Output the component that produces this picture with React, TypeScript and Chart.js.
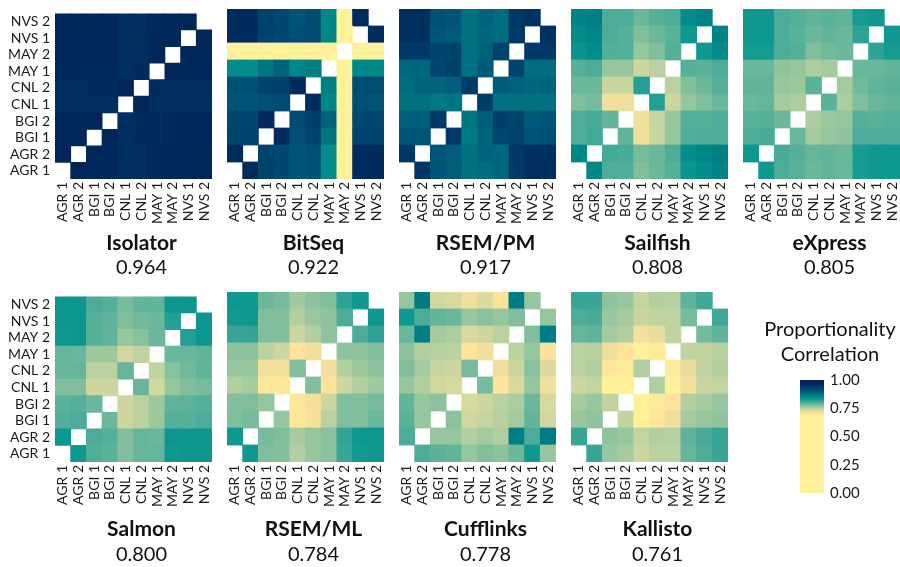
import React, { useEffect, useRef } from 'react';
import { Chart, registerables } from 'chart.js';
Chart.register(...registerables);

const FONT = 'Lato, "Open Sans", sans-serif';
const TEXT = '#1a1a1a';

const samples = ['AGR 1', 'AGR 2', 'BGI 1', 'BGI 2', 'CNL 1', 'CNL 2', 'MAY 1', 'MAY 2', 'NVS 1', 'NVS 2'];

// Lower triangles: row i holds the correlation of sample i with samples 0..i-1
const isolatorTri = [
  [],
  [0.975],
  [0.97, 0.97],
  [0.97, 0.97, 0.975],
  [0.955, 0.955, 0.955, 0.958],
  [0.958, 0.958, 0.96, 0.96, 0.975],
  [0.968, 0.968, 0.965, 0.965, 0.955, 0.96],
  [0.97, 0.97, 0.968, 0.968, 0.955, 0.958, 0.975],
  [0.97, 0.97, 0.97, 0.97, 0.955, 0.958, 0.97, 0.97],
  [0.972, 0.972, 0.97, 0.97, 0.955, 0.958, 0.97, 0.972, 0.975],
];
const bitseqTri = [
  [],
  [0.965],
  [0.925, 0.925],
  [0.92, 0.92, 0.965],
  [0.905, 0.905, 0.91, 0.915],
  [0.91, 0.91, 0.925, 0.93, 0.96],
  [0.845, 0.845, 0.87, 0.89, 0.85, 0.86],
  [0.55, 0.55, 0.55, 0.55, 0.55, 0.55, 0.55],
  [0.965, 0.965, 0.925, 0.92, 0.91, 0.915, 0.85, 0.55],
  [0.965, 0.965, 0.925, 0.92, 0.905, 0.915, 0.85, 0.55, 0.965],
];
const rsemPmTri = [
  [],
  [0.945],
  [0.905, 0.905],
  [0.895, 0.895, 0.94],
  [0.875, 0.875, 0.865, 0.87],
  [0.88, 0.89, 0.89, 0.895, 0.935],
  [0.885, 0.885, 0.92, 0.93, 0.875, 0.9],
  [0.94, 0.94, 0.925, 0.925, 0.875, 0.89, 0.925],
  [0.955, 0.955, 0.905, 0.9, 0.875, 0.885, 0.88, 0.94],
  [0.955, 0.955, 0.91, 0.905, 0.875, 0.89, 0.88, 0.94, 0.95],
];
const sailfishTri = [
  [],
  [0.85],
  [0.798, 0.805],
  [0.798, 0.802, 0.788],
  [0.775, 0.78, 0.717, 0.72],
  [0.785, 0.785, 0.74, 0.74, 0.82],
  [0.795, 0.8, 0.765, 0.765, 0.738, 0.748],
  [0.835, 0.845, 0.797, 0.795, 0.765, 0.775, 0.795],
  [0.845, 0.852, 0.8, 0.795, 0.775, 0.785, 0.792, 0.83],
  [0.855, 0.86, 0.8, 0.8, 0.785, 0.795, 0.8, 0.845, 0.855],
];
const expressTri = [
  [],
  [0.83],
  [0.8, 0.802],
  [0.793, 0.795, 0.785],
  [0.785, 0.787, 0.758, 0.755],
  [0.789, 0.789, 0.765, 0.762, 0.792],
  [0.785, 0.785, 0.768, 0.765, 0.755, 0.758],
  [0.826, 0.826, 0.8, 0.795, 0.775, 0.782, 0.785],
  [0.83, 0.83, 0.8, 0.792, 0.785, 0.789, 0.785, 0.815],
  [0.83, 0.83, 0.8, 0.795, 0.789, 0.793, 0.789, 0.826, 0.83],
];
const salmonTri = [
  [],
  [0.83],
  [0.797, 0.8],
  [0.792, 0.795, 0.785],
  [0.775, 0.775, 0.738, 0.738],
  [0.787, 0.787, 0.748, 0.748, 0.787],
  [0.787, 0.785, 0.762, 0.762, 0.736, 0.745],
  [0.83, 0.832, 0.795, 0.789, 0.765, 0.772, 0.785],
  [0.832, 0.832, 0.795, 0.79, 0.775, 0.782, 0.785, 0.82],
  [0.832, 0.832, 0.8, 0.795, 0.778, 0.789, 0.789, 0.832, 0.832],
];
const rsemMlTri = [
  [],
  [0.83],
  [0.775, 0.78],
  [0.774, 0.775, 0.765],
  [0.752, 0.757, 0.7, 0.7],
  [0.765, 0.765, 0.715, 0.716, 0.774],
  [0.77, 0.77, 0.748, 0.738, 0.71, 0.718],
  [0.81, 0.812, 0.775, 0.774, 0.738, 0.752, 0.768],
  [0.828, 0.83, 0.775, 0.774, 0.752, 0.763, 0.768, 0.8],
  [0.83, 0.83, 0.785, 0.78, 0.76, 0.77, 0.774, 0.815, 0.83],
];
const cufflinksTri = [
  [],
  [0.8],
  [0.792, 0.765],
  [0.788, 0.765, 0.77],
  [0.765, 0.752, 0.737, 0.732],
  [0.775, 0.758, 0.742, 0.738, 0.78],
  [0.77, 0.752, 0.75, 0.748, 0.71, 0.718],
  [0.785, 0.86, 0.758, 0.755, 0.732, 0.738, 0.748],
  [0.83, 0.8, 0.788, 0.785, 0.765, 0.772, 0.765, 0.775],
  [0.765, 0.866, 0.736, 0.732, 0.718, 0.73, 0.712, 0.862, 0.765],
];
const kallistoTri = [
  [],
  [0.81],
  [0.764, 0.768],
  [0.757, 0.764, 0.745],
  [0.738, 0.743, 0.68, 0.68],
  [0.748, 0.752, 0.7, 0.695, 0.753],
  [0.748, 0.75, 0.72, 0.71, 0.68, 0.69],
  [0.787, 0.79, 0.758, 0.752, 0.716, 0.722, 0.745],
  [0.8, 0.802, 0.764, 0.757, 0.74, 0.745, 0.745, 0.78],
  [0.81, 0.81, 0.768, 0.764, 0.743, 0.752, 0.75, 0.79, 0.806],
];

const methods = ['Isolator', 'BitSeq', 'RSEM/PM', 'Sailfish', 'eXpress', 'Salmon', 'RSEM/ML', 'Cufflinks', 'Kallisto'];
const scores = ['0.964', '0.922', '0.917', '0.808', '0.805', '0.800', '0.784', '0.778', '0.761'];
const triangles = [isolatorTri, bitseqTri, rsemPmTri, sailfishTri, expressTri, salmonTri, rsemMlTri, cufflinksTri, kallistoTri];
const legendTicks = [0, 0.25, 0.5, 0.75, 1];
const legendTitle = ['Proportionality', 'Correlation'];

const colorStops: [number, string][] = [
  [0, '#fff29c'],
  [0.68, '#fff09a'],
  [0.71, '#fde39b'],
  [0.73, '#dcda9f'],
  [0.75, '#b6d0a0'],
  [0.77, '#8bc29d'],
  [0.79, '#5fb39a'],
  [0.81, '#38a597'],
  [0.83, '#0e9890'],
  [0.85, '#008888'],
  [0.87, '#007682'],
  [0.89, '#00637c'],
  [0.91, '#005075'],
  [0.93, '#00406c'],
  [0.95, '#003262'],
  [0.97, '#00285a'],
  [1, '#0a1d4c'],
];

function hexRgb(h: string) {
  return [parseInt(h.slice(1, 3), 16), parseInt(h.slice(3, 5), 16), parseInt(h.slice(5, 7), 16)];
}
function colorFor(v: number) {
  if (v <= colorStops[0][0]) return colorStops[0][1];
  for (let i = 1; i < colorStops.length; i++) {
    const [v1, c1] = colorStops[i];
    const [v0, c0] = colorStops[i - 1];
    if (v <= v1) {
      const t = (v - v0) / (v1 - v0);
      const a = hexRgb(c0), b = hexRgb(c1);
      const m = a.map((x, k) => Math.round(x + (b[k] - x) * t));
      return `rgb(${m[0]},${m[1]},${m[2]})`;
    }
  }
  return colorStops[colorStops.length - 1][1];
}

function fullMatrix(tri: number[][]) {
  return samples.map((_, r) => samples.map((_, c) => (r === c ? null : r > c ? tri[r][c] : tri[c][r])));
}

type PanelProps = { idx: number; left: number; top: number; height: number; showY: boolean; titlePad: number; subPad: number; bottomPad: number };

function Heatmap({ idx, left, top, height, showY, titlePad, subPad, bottomPad }: PanelProps) {
  const ref = useRef<HTMLCanvasElement | null>(null);
  useEffect(() => {
    if (!ref.current) return;
    const m = fullMatrix(triangles[idx]);
    const datasets = samples.map((s, r) => ({
      label: s,
      data: samples.map(() => 1),
      backgroundColor: samples.map((_, c) => (m[r][c] == null ? 'rgba(255,255,255,0)' : colorFor(m[r][c] as number))),
      borderWidth: 0,
      barPercentage: 1,
      categoryPercentage: 1,
      inflateAmount: 0.4,
    }));
    const tickFont = { family: FONT, size: 14 };
    const chart = new Chart(ref.current, {
      type: 'bar',
      data: { labels: samples, datasets },
      options: {
        animation: false,
        responsive: false,
        events: [],
        layout: { padding: { top: 9, bottom: bottomPad, left: 0, right: 0 }, autoPadding: false },
        plugins: {
          legend: { display: false },
          tooltip: { enabled: false },
          title: {
            display: true, text: methods[idx], position: 'bottom', weight: 100, fullSize: true,
            font: { family: FONT, size: 21, weight: 'bold' }, color: '#111',
            padding: { top: titlePad, bottom: 0 },
          },
          subtitle: {
            display: true, text: scores[idx], position: 'bottom', weight: 1500, fullSize: true,
            font: { family: FONT, size: 20, weight: 'normal' }, color: '#111',
            padding: { top: subPad, bottom: 0 },
          },
        },
        scales: {
          x: {
            type: 'category', stacked: true,
            grid: { display: false, drawTicks: false }, border: { display: false },
            ticks: { minRotation: 90, maxRotation: 90, autoSkip: false, padding: 3, font: tickFont, color: TEXT },
            afterFit: (s: any) => { s.height = 45; },
          },
          y: {
            type: 'linear', stacked: true, min: 0, max: 10, position: 'left',
            grid: { display: false, drawTicks: false }, border: { display: false },
            ticks: {
              display: showY, padding: 5, font: tickFont, color: TEXT, autoSkip: false,
              callback: (v: any) => samples[Math.floor(Number(v))] ?? '',
            },
            afterBuildTicks: (s: any) => { s.ticks = samples.map((_, i) => ({ value: i + 0.5 })); },
            afterFit: (s: any) => { s.width = 55; },
          },
          pad: {
            type: 'linear', position: 'right', display: true,
            grid: { display: false, drawTicks: false }, border: { display: false },
            ticks: { display: false },
            afterFit: (s: any) => { s.width = 71; },
          },
        },
      } as any,
    });
    return () => chart.destroy();
  }, [idx, showY, titlePad, subPad, bottomPad]);
  return <canvas ref={ref} width={283} height={height} style={{ position: 'absolute', left, top, width: 283, height }} />;
}

function ColorBar() {
  const ref = useRef<HTMLCanvasElement | null>(null);
  useEffect(() => {
    if (!ref.current) return;
    const chart = new Chart(ref.current, {
      type: 'bar',
      data: {
        labels: [''],
        datasets: [{
          data: [[0, 1]] as any,
          borderWidth: 0,
          barPercentage: 1,
          categoryPercentage: 1,
          backgroundColor: (ctx: any) => {
            const c = ctx.chart;
            if (!c.chartArea) return 'rgba(0,0,0,0)';
            const ys = c.scales.y;
            const g = c.ctx.createLinearGradient(0, ys.getPixelForValue(0), 0, ys.getPixelForValue(1));
            colorStops.forEach(([v, col]) => g.addColorStop(v, col));
            return g;
          },
        }],
      },
      options: {
        animation: false,
        responsive: false,
        events: [],
        layout: { padding: { top: 0, bottom: 17, left: 0, right: 0 }, autoPadding: false },
        plugins: {
          legend: { display: false },
          tooltip: { enabled: false },
          title: {
            display: true, text: legendTitle, position: 'top', fullSize: true,
            font: { family: FONT, size: 20, weight: 'normal', lineHeight: 1.25 }, color: '#111',
            padding: { top: 17.5, bottom: 12.5 },
          },
        },
        scales: {
          x: { display: false },
          y: {
            type: 'linear', position: 'right', min: 0, max: 1,
            grid: { display: false, drawTicks: false }, border: { display: false },
            afterBuildTicks: (s: any) => { s.ticks = legendTicks.map((v) => ({ value: v })); },
            ticks: { padding: 6, font: { family: FONT, size: 15 }, color: TEXT, callback: (v: any) => Number(v).toFixed(2) },
            afterFit: (s: any) => { s.width = 76; },
          },
          padL: {
            type: 'linear', position: 'left', display: true,
            grid: { display: false, drawTicks: false }, border: { display: false },
            ticks: { display: false },
            afterFit: (s: any) => { s.width = 40; },
          },
        },
      } as any,
    });
    return () => chart.destroy();
  }, []);
  return <canvas ref={ref} width={140} height={210} style={{ position: 'absolute', left: 760, top: 300, width: 140, height: 210 }} />;
}

export default function App() {
  const panels = methods.map((_, i) => {
    const row = i < 5 ? 0 : 1;
    const col = row === 0 ? i : i - 5;
    return {
      idx: i,
      left: col * 172,
      top: row === 0 ? 0 : 283,
      height: row === 0 ? 283 : 284,
      showY: col === 0,
      titlePad: row === 0 ? 6.4 : 10,
      subPad: 0.4,
      bottomPad: row === 0 ? 3 : 0.4,
    };
  });
  return (
    <div style={{ position: 'fixed', left: 0, top: 0, width: 900, height: 567, overflow: 'hidden', background: '#fff' }}>
      {panels.map((p) => <Heatmap key={p.idx} {...p} />)}
      <ColorBar />
    </div>
  );
}
